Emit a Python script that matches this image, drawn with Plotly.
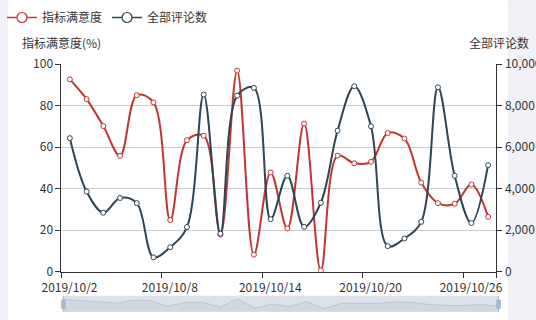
import plotly.graph_objects as go

# ---------------- data ----------------
dates = ["2019/10/2", "2019/10/3", "2019/10/4", "2019/10/5", "2019/10/6",
         "2019/10/7", "2019/10/8", "2019/10/9", "2019/10/10", "2019/10/11",
         "2019/10/12", "2019/10/13", "2019/10/14", "2019/10/15", "2019/10/16",
         "2019/10/17", "2019/10/18", "2019/10/19", "2019/10/20", "2019/10/21",
         "2019/10/22", "2019/10/23", "2019/10/24", "2019/10/25", "2019/10/26",
         "2019/10/27"]
satisfaction = [92.6, 83.1, 70.1, 55.8, 85.0, 81.5, 24.9, 63.3, 65.5, 17.9,
                96.8, 8.2, 47.8, 20.8, 71.3, 0.6, 55.9, 52.2, 52.9, 66.8,
                64.1, 42.9, 33.0, 32.7, 42.0, 26.4]
comments = [6430, 3860, 2840, 3550, 3300, 690, 1180, 2150, 8530, 1830,
            8480, 8850, 2530, 4620, 2160, 3320, 6790, 8930, 7000, 1230,
            1600, 2400, 8880, 4620, 2340, 5130]
series_names = ["指标满意度", "全部评论数"]
left_title = "指标满意度(%)"
right_title = "全部评论数"
label_every = 6

# ---------------- style ----------------
RED = "#c23531"
DARK = "#2f4554"
TXT = "#333333"
FONT = "Noto Sans CJK SC, Noto Sans, sans-serif"
PAGE_BG = "#f1f2f7"

W, H = 536, 320
ML, MR, MT, MB = 61, 36, 64, 8
PW, PH = W - ML - MR, H - MT - MB

def px_x(p):  # pixel -> paper x
    return (p - ML) / PW

def px_y(p):  # pixel -> paper y
    return (H - MB - p) / PH

idx = list(range(len(dates)))
n = len(dates)

fig = go.Figure()

# main series
fig.add_trace(go.Scatter(
    x=idx, y=satisfaction, name=series_names[0], mode="lines+markers",
    line=dict(color=RED, width=2, shape="spline", smoothing=1),
    marker=dict(size=5, color="white", line=dict(color=RED, width=1)),
    showlegend=False, hoverinfo="skip"))
fig.add_trace(go.Scatter(
    x=idx, y=comments, name=series_names[1], mode="lines+markers", yaxis="y2",
    line=dict(color=DARK, width=2, shape="spline", smoothing=1),
    marker=dict(size=5, color="white", line=dict(color=DARK, width=1)),
    showlegend=False, hoverinfo="skip"))

# legend entries (bigger icon like echarts)
for nm, col in zip(series_names, [RED, DARK]):
    fig.add_trace(go.Scatter(
        x=[None], y=[None], name=nm, mode="lines+markers",
        line=dict(color=col, width=1.5),
        marker=dict(size=10, color="white", line=dict(color=col, width=1.2))))

# data-zoom shadow (first series)
lo = min(satisfaction) - 0.3 * (max(satisfaction) - min(satisfaction))
hi = max(satisfaction) + 0.3 * (max(satisfaction) - min(satisfaction))
fig.add_trace(go.Scatter(
    x=idx, y=[lo] * n, xaxis="x2", yaxis="y3", mode="lines",
    line=dict(width=0), showlegend=False, hoverinfo="skip"))
fig.add_trace(go.Scatter(
    x=idx, y=satisfaction, xaxis="x2", yaxis="y3", mode="lines",
    fill="tonexty", fillcolor="rgba(47,69,84,0.06)",
    line=dict(color="rgba(47,69,84,0.25)", width=0.6),
    showlegend=False, hoverinfo="skip"))

# ---------------- card background ----------------
cx0, cx1 = px_x(8), px_x(508)
cy1, cy0 = px_y(0), px_y(330)
rx, ry = 4 / PW, 4 / PH
card_path = (f"M {cx0},{cy0} L {cx0},{cy1 - ry} Q {cx0},{cy1} {cx0 + rx},{cy1} "
             f"L {cx1 - rx},{cy1} Q {cx1},{cy1} {cx1},{cy1 - ry} L {cx1},{cy0} Z")
shapes = [dict(type="path", xref="paper", yref="paper", path=card_path,
               fillcolor="white", line=dict(width=0), layer="below")]

# slider box + handles
shapes.append(dict(type="rect", xref="x2 domain", yref="y3 domain",
                   x0=0, x1=1, y0=0, y1=1, fillcolor="rgb(220,226,235)",
                   line=dict(color="#dddddd", width=0.5), layer="below"))
hw = 2 / (PW * (0.9966 - 0.0052))
for hx in (0, 1):
    shapes.append(dict(type="line", xref="x2 domain", yref="y3 domain",
                       x0=hx, x1=hx, y0=0, y1=1,
                       line=dict(color="#a7b7cc", width=1), layer="above"))
    shapes.append(dict(type="rect", xref="x2 domain", yref="y3 domain",
                       x0=hx - hw, x1=hx + hw, y0=0.2, y1=0.75,
                       fillcolor="#a7b7cc", line=dict(color="#a7b7cc", width=0.5),
                       layer="above"))

# x tick positions at category boundaries, labels shifted to centers
tickvals = [i - 0.5 for i in range(0, n, label_every)] + [n - 0.5]
ticktext = [dates[i] for i in range(0, n, label_every)] + [""]
half_cat_px = int(round((PW * (0.992 - 0.0011)) / n / 2))

fig.update_layout(
    width=W, height=H,
    margin=dict(l=ML, r=MR, t=MT, b=MB, pad=0, autoexpand=False),
    paper_bgcolor=PAGE_BG, plot_bgcolor="white",
    font=dict(family=FONT, size=12, color=TXT),
    shapes=shapes,
    showlegend=True,
    legend=dict(orientation="h", x=px_x(2), y=px_y(3), xanchor="left",
                yanchor="top", font=dict(size=12, color=TXT),
                traceorder="normal", itemwidth=30,
                bgcolor="rgba(0,0,0,0)", itemclick=False, tracegroupgap=0),
    xaxis=dict(domain=[0.0011, 0.992], range=[-0.5, n - 0.5],
               tickmode="array", tickvals=tickvals, ticktext=ticktext,
               ticklabelshift=half_cat_px, automargin=False,
               ticks="outside", ticklen=5, tickcolor="#333", tickwidth=1,
               showline=True, linecolor="#333", linewidth=1,
               showgrid=False, zeroline=False, anchor="y",
               tickfont=dict(size=12, color=TXT)),
    yaxis=dict(domain=[0.1625, 1.0], range=[0, 100], dtick=20,
               ticks="outside", ticklen=5, tickcolor="#333", automargin=False,
               showline=True, linecolor="#333", linewidth=1,
               showgrid=True, gridcolor="#cccccc", gridwidth=1,
               zeroline=False, tickfont=dict(size=12, color=TXT)),
    yaxis2=dict(overlaying="y", side="right", range=[0, 10000], dtick=2000,
                tickformat=",d", ticks="outside", ticklen=5, tickcolor="#333",
                showline=True, linecolor="#333", linewidth=1, automargin=False,
                showgrid=False, zeroline=False, anchor="x",
                tickfont=dict(size=12, color=TXT)),
    xaxis2=dict(domain=[0.0052, 0.9966], range=[0, n - 1], visible=False,
                anchor="y3"),
    yaxis3=dict(domain=[0.0012, 0.0645], range=[lo, hi], visible=False,
                anchor="x2"),
    annotations=[
        dict(text=left_title, xref="paper", yref="paper", x=0.0011,
             y=px_y(43), xanchor="center", yanchor="middle", showarrow=False,
             font=dict(size=12, color=TXT)),
        dict(text=right_title, xref="paper", yref="paper", x=px_x(499),
             y=px_y(42), xanchor="center", yanchor="middle", showarrow=False,
             font=dict(size=12, color=TXT)),
    ],
)

fig.write_html("out.html")
